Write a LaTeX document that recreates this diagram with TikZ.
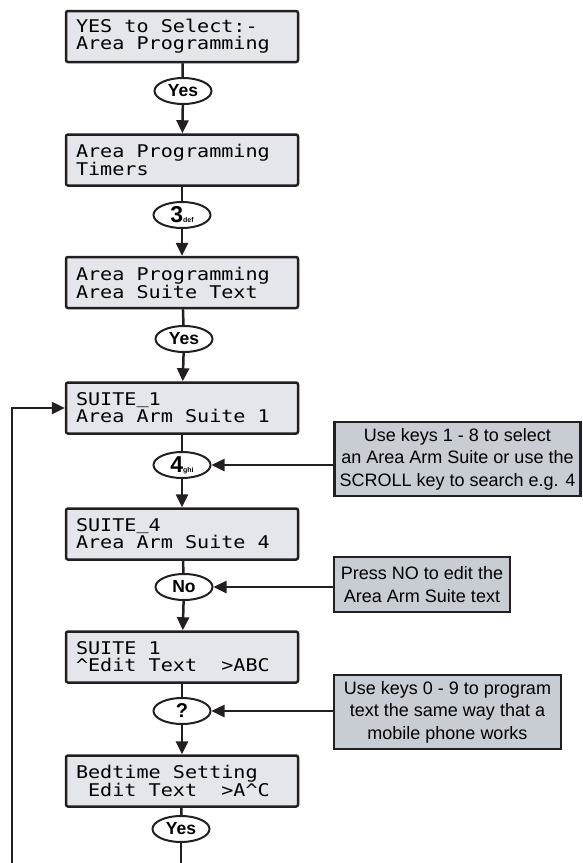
\documentclass[tikz,border=0pt]{standalone}
\usepackage{fontspec}
\setmainfont{Liberation Sans}
\newfontfamily\lcd[FakeStretch=1.15]{DejaVu Sans Mono}
\usetikzlibrary{arrows.meta,shapes.geometric}
\definecolor{lcdfill}{RGB}{228,230,236}
\definecolor{notefill}{RGB}{200,204,211}
\definecolor{ink}{RGB}{35,31,32}
\newcommand{\lsp}{\phantom{x}}
\newcommand{\lus}{\raisebox{2.5pt}{\_}}
\begin{document}
\begin{tikzpicture}[x=1pt,y=-1pt,
  lcdbox/.style={draw=ink, line width=2.5pt, fill=lcdfill, rounded corners=2pt,
    minimum width=232pt, minimum height=51pt, text width=212pt, align=left,
    inner xsep=10pt, inner ysep=0pt, font=\lcd\fontsize{17.5}{17}\selectfont},
  keybtn/.style={draw=ink, ellipse, line width=2pt, fill=white,
    minimum width=57pt, minimum height=26pt, inner sep=0pt,
    font=\bfseries\fontsize{17.5}{17.5}\selectfont},
  note/.style={draw=ink, line width=2.5pt, fill=notefill, align=center,
    font=\fontsize{18}{22.5}\selectfont, inner sep=0pt},
  link/.style={draw=ink, line width=2.5pt},
  arr/.style={link, -{Triangle[length=13pt,width=12pt]}}
]
\useasboundingbox (0,0) rectangle (582,863);

% LCD display boxes
\node[lcdbox] (B1) at (182,36.5) {YES\lsp to\lsp Select:-\\Area\lsp Programming};
\node[lcdbox] (B2) at (182,160) {Area\lsp Programming\\Timers};
\node[lcdbox] (B3) at (182,282.5) {Area\lsp Programming\\Area\lsp Suite\lsp Text};
\node[lcdbox] (B4) at (182,408) {SUITE\lus 1\\Area\lsp Arm\lsp Suite\lsp 1};
\node[lcdbox] (B5) at (182,534) {SUITE\lus 4\\Area\lsp Arm\lsp Suite\lsp 4};
\node[lcdbox] (B6) at (182,657) {SUITE\lsp 1\\\textasciicircum Edit\lsp Text\lsp\lsp >ABC};
\node[lcdbox] (B7) at (182,781) {Bedtime\lsp Setting\\\lsp Edit\lsp Text\lsp\lsp >A\textasciicircum C};

% key buttons
\node[keybtn] (E1) at (183,91) {Yes};
\node[keybtn] (E2) at (182,215) {{\fontsize{23}{23}\selectfont 3}{\fontsize{7}{7}\selectfont def}};
\node[keybtn] (E3) at (184,339) {Yes};
\node[keybtn] (E4) at (182,465) {{\fontsize{23}{23}\selectfont 4}{\fontsize{7}{7}\selectfont ghi}};
\node[keybtn] (E5) at (184,587) {No};
\node[keybtn] (E6) at (182,711) {\fontsize{20}{20}\selectfont ?};
\node[keybtn] (E7) at (181,829) {Yes};

% notes
\node[note, minimum width=246pt, minimum height=74pt] (C1) at (457.5,459)
  {Use keys 1 - 8 to select\\an Area Arm Suite or use the\\SCROLL key to search e.g. 4};
\node[note, minimum width=176pt, minimum height=55pt] (C2) at (422,584.5)
  {Press NO to edit the\\Area Arm Suite text};
\node[note, minimum width=227pt, minimum height=74pt] (C3) at (447.5,712)
  {Use keys 0 - 9 to program\\text the same way that a\\mobile phone works};

% main flow
\draw[link] (B1) -- (E1);
\draw[arr] (E1) -- (B2);
\draw[link] (B2) -- (E2);
\draw[arr] (E2) -- (B3);
\draw[link] (B3) -- (E3);
\draw[arr] (E3) -- (B4);
\draw[link] (B4) -- (E4);
\draw[arr] (E4) -- (B5);
\draw[link] (B5) -- (E5);
\draw[arr] (E5) -- (B6);
\draw[link] (B6) -- (E6);
\draw[arr] (E6) -- (B7);
\draw[link] (B7) -- (E7);
\coordinate (bottomend) at (181,863);
\draw[link] (E7) -- (bottomend);

% note arrows
\draw[arr] (C1.west |- E4) -- (E4.east);
\draw[arr] (C2.west |- E5) -- (E5.east);
\draw[arr] (C3.west |- E6) -- (E6.east);

% loop back
\coordinate (loopstart) at (12,863);
\draw[arr] (loopstart) |- (B4.west);
\end{tikzpicture}
\end{document}
